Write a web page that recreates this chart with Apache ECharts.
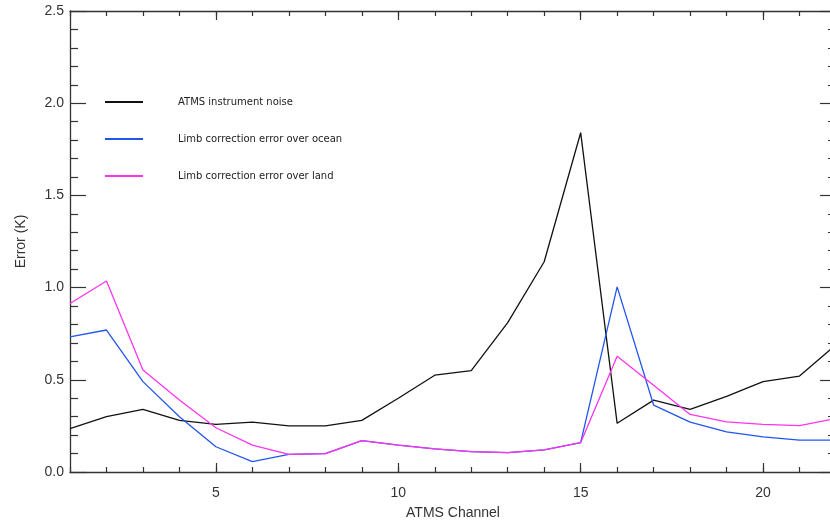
<!DOCTYPE html>
<html>
<head>
<meta charset="utf-8">
<script src="https://cdn.jsdelivr.net/npm/echarts@6/dist/echarts.min.js"></script>
<style>
  html, body { margin: 0; padding: 0; background: #fff; }
  #chart { width: 830px; height: 522px; }
</style>
</head>
<body>
<div id="chart"></div>
<script>
// ATMS channels 1..22
var channels = [1, 2, 3, 4, 5, 6, 7, 8, 9, 10, 11, 12, 13, 14, 15, 16, 17, 18, 19, 20, 21, 22];
var noise = [0.235, 0.30, 0.34, 0.28, 0.258, 0.27, 0.25, 0.25, 0.28, 0.40, 0.525, 0.55, 0.81, 1.14, 1.84, 0.264, 0.39, 0.34, 0.41, 0.49, 0.52, 0.69];
var ocean = [0.733, 0.77, 0.49, 0.30, 0.137, 0.056, 0.096, 0.10, 0.17, 0.146, 0.125, 0.11, 0.105, 0.12, 0.159, 1.004, 0.363, 0.27, 0.218, 0.19, 0.173, 0.173];
var land = [0.914, 1.036, 0.553, 0.39, 0.24, 0.146, 0.096, 0.10, 0.17, 0.146, 0.125, 0.11, 0.105, 0.12, 0.159, 0.628, 0.47, 0.312, 0.272, 0.258, 0.251, 0.29];
var seriesNames = ['ATMS instrument noise', 'Limb correction error over ocean', 'Limb correction error over land'];
var seriesColors = ['#111111', '#2255ee', '#ff33ee'];
var majorX = [5, 10, 15, 20];

function pairs(vals) {
    return channels.map(function (c, i) { return [c, vals[i]]; });
}

var chart = echarts.init(document.getElementById('chart'));

var axisColor = '#333';
var fontFam = 'Liberation Sans, DejaVu Sans, sans-serif';

// x axes: one for the minor ticks (every channel), one for the major ticks and labels
function xAx(pos, major, labels) {
    var ax = {
        type: 'value', position: pos, min: 1, max: 22,
        axisLine: { show: !major, onZero: false, lineStyle: { color: axisColor, width: 1.3 } },
        axisTick: { show: true, inside: true, length: major ? 9 : 5, lineStyle: { color: axisColor, width: 1.2 } },
        axisLabel: { show: false },
        splitLine: { show: false }
    };
    if (major) {
        ax.axisTick.customValues = majorX;
        ax.axisLabel.customValues = majorX;
    } else {
        ax.interval = 1;
    }
    if (labels) {
        ax.axisLabel = {
            show: true, customValues: majorX, color: axisColor, fontSize: 14,
            fontFamily: fontFam, margin: 14
        };
        ax.name = 'ATMS Channel';
        ax.nameLocation = 'middle';
        ax.nameGap = 34;
        ax.nameTextStyle = { color: axisColor, fontSize: 14, fontFamily: fontFam };
    }
    return ax;
}

function yAx(pos, labels) {
    var ax = {
        type: 'value', position: pos, min: 0, max: 2.5, interval: 0.5,
        axisLine: { show: true, onZero: false, lineStyle: { color: axisColor, width: 1.3 } },
        axisTick: { show: true, inside: true, length: 16, lineStyle: { color: axisColor, width: 1.2 } },
        minorTick: { show: true, splitNumber: 5, length: 8, lineStyle: { color: axisColor, width: 1.2 } },
        axisLabel: { show: false },
        splitLine: { show: false }
    };
    if (labels) {
        ax.axisLabel = {
            show: true, color: axisColor, fontSize: 14, fontFamily: fontFam, margin: 6,
            formatter: function (v) { return v.toFixed(1); }
        };
        ax.name = 'Error (K)';
        ax.nameLocation = 'middle';
        ax.nameGap = 42;
        ax.nameTextStyle = { color: axisColor, fontSize: 14, fontFamily: fontFam };
    }
    return ax;
}

var seriesList = [noise, ocean, land].map(function (vals, i) {
    return {
        name: seriesNames[i],
        type: 'line',
        xAxisIndex: 0,
        yAxisIndex: 0,
        data: pairs(vals),
        symbol: 'none',
        lineStyle: { color: seriesColors[i], width: 1.3 },
        itemStyle: { color: seriesColors[i] }
    };
});

chart.setOption({
    animation: false,
    backgroundColor: '#fff',
    grid: { left: 70, right: -6, top: 11, bottom: 50, containLabel: false, outerBoundsMode: 'none' },
    legend: {
        orient: 'vertical',
        left: 100,
        top: 92,
        icon: 'rect',
        itemWidth: 38,
        itemHeight: 2,
        itemGap: 27,
        data: seriesNames,
        textStyle: { color: '#222', fontSize: 10, fontFamily: 'DejaVu Sans, sans-serif', padding: [0, 0, 0, 30] }
    },
    xAxis: [
        xAx('bottom', false, false),
        xAx('bottom', true, true),
        xAx('top', false, false),
        xAx('top', true, false)
    ],
    yAxis: [
        yAx('left', true),
        yAx('right', false)
    ],
    series: seriesList
});
</script>
</body>
</html>
